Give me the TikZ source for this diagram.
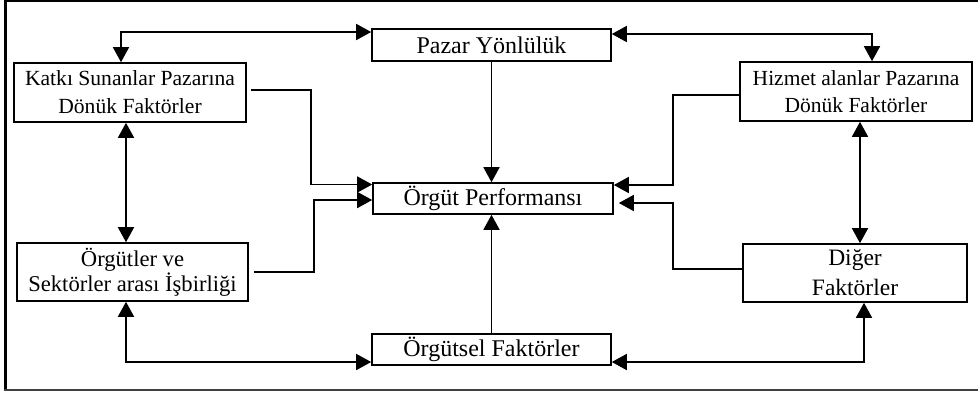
\documentclass[tikz,border=0pt]{standalone}
\usepackage{fontspec}
\setmainfont{Liberation Serif}
\usetikzlibrary{arrows.meta}
\begin{document}
\begin{tikzpicture}[x=1pt,y=-1pt,
  >={Triangle[length=15pt,width=16pt]},
  line width=1.6pt,
  box/.style={draw,line width=1.6pt,inner sep=0pt,align=center,anchor=center},
  one/.style={box,font=\fontsize{24}{28}\selectfont},
  conn/.style={line width=1.6pt}]
\useasboundingbox (0,0) rectangle (978,392);
% frame
\draw[line width=2pt] (4,1) -- (978,1);
\draw[line width=3pt] (5.5,0) -- (5.5,391);
\draw[line width=2pt,black!75] (4,390) -- (978,390);
% nodes
\node[one,minimum width=239pt,minimum height=32pt] (pazar) at (491.5,45) {Pazar Yönlülük};
\node[box,minimum width=232pt,minimum height=59pt,font=\fontsize{21.6}{28}\selectfont] (katki) at (130,92.5) {Katkı Sunanlar Pazarına\\Dönük Faktörler};
\node[box,minimum width=232pt,minimum height=59pt,font=\fontsize{21.5}{27}\selectfont] (hizmet) at (856,91.5) {Hizmet alanlar Pazarına\\Dönük Faktörler};
\node[one,minimum width=240pt,minimum height=31pt] (op) at (493,198.5) {Örgüt Performansı};
\node[box,minimum width=231pt,minimum height=58pt,font=\fontsize{22.6}{25}\selectfont] (orgutler) at (132.5,272) {Örgütler ve\\Sektörler arası İşbirliği};
\node[box,minimum width=224pt,minimum height=58pt,font=\fontsize{23.5}{30}\selectfont] (diger) at (855,273) {Diğer\\Faktörler};
\node[one,minimum width=239pt,minimum height=31pt] (orgutsel) at (491.5,349.5) {Örgütsel Faktörler};
% connectors
\draw[conn,<->] ([xshift=-9pt]katki.north) |- ([yshift=13pt]pazar.west);
\draw[conn,<->] ([yshift=11pt]pazar.east) -| ([xshift=16pt]hizmet.north);
\draw[conn,->] (pazar.south) -- (pazar.south |- op.north);
\draw[conn,->] ([xshift=4pt,yshift=2.5pt]katki.east) -- ++(60,0) |- ([yshift=14pt]op.west);
\draw[conn,->] ([xshift=5pt]orgutler.east) -- ++(60,0) |- ([yshift=-1.5pt]op.west);
\draw[conn,->] ([yshift=-3.5pt]hizmet.west) -- ++(-66,0) |- ([yshift=13.5pt]op.east);
\draw[conn,->] ([yshift=4pt]diger.west) -- ++(-69,0) |- ([xshift=5pt,yshift=-4.5pt]op.east);
\draw[conn,<->] ([xshift=-4pt]katki.south) -- ([xshift=-4pt]katki.south |- orgutler.north);
\draw[conn,<->] ([xshift=4pt]hizmet.south) -- ([xshift=4pt]hizmet.south |- diger.north);
\draw[conn,<->] ([yshift=-12.5pt]orgutsel.west) -| ([xshift=-6.5pt]orgutler.south);
\draw[conn,<->] ([yshift=-12.5pt]orgutsel.east) -| ([xshift=9pt]diger.south);
\draw[conn,->] (orgutsel.north) -- (orgutsel.north |- op.south);
\end{tikzpicture}
\end{document}
